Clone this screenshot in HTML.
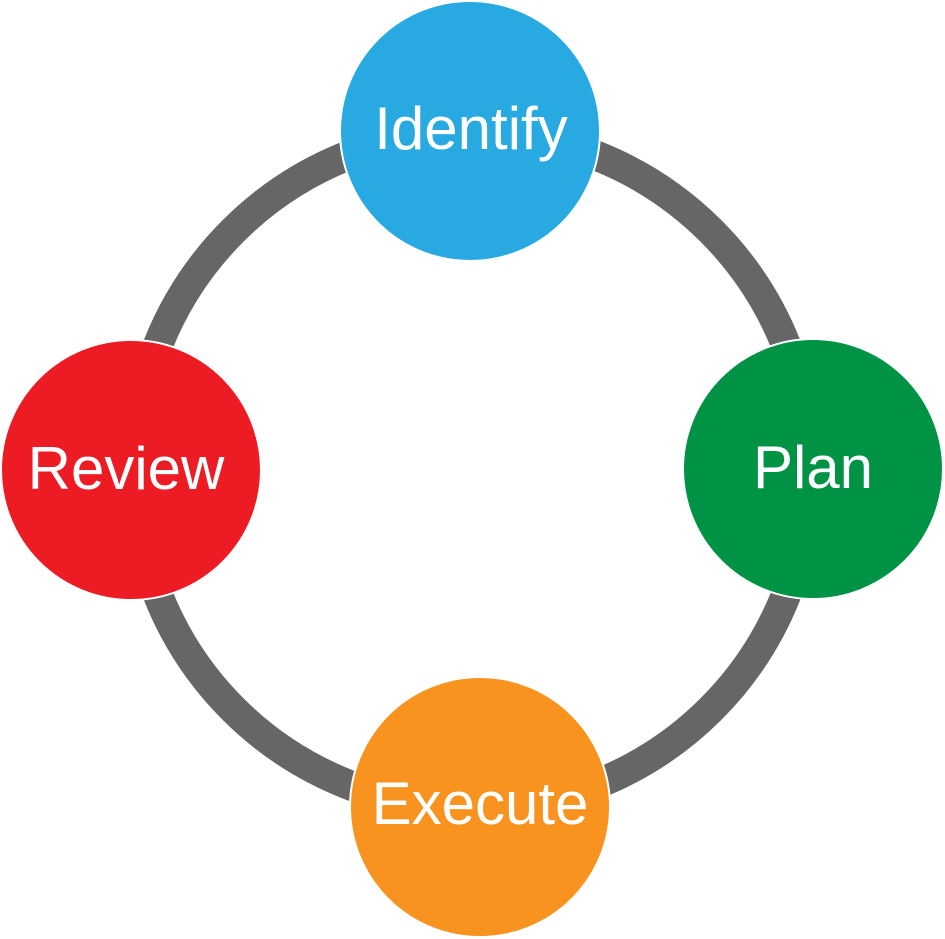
<!DOCTYPE html>
<html><head><style>html,body{margin:0;padding:0;background:#fff;width:945px;height:939px;overflow:hidden}</style></head>
<body>
<svg width="945" height="939" viewBox="0 0 945 939" xmlns="http://www.w3.org/2000/svg">
<circle cx="472" cy="470" r="338" fill="none" stroke="#666666" stroke-width="30"/>
<g stroke="#fff" stroke-width="2">
<circle cx="470" cy="131" r="130" fill="#29a9e1"/>
<circle cx="813" cy="469" r="130" fill="#009245"/>
<circle cx="131" cy="470" r="130" fill="#ed1c24"/>
<circle cx="480" cy="807" r="130" fill="#f7931e"/>
</g>
<g fill="#fff" font-family="Liberation Sans, sans-serif" font-size="60" text-anchor="middle">
<text x="471" y="149">Identify</text>
<text x="813" y="488">Plan</text>
<text x="126" y="489">Review</text>
<text x="480" y="824">Execute</text>
</g>
</svg>
</body></html>
